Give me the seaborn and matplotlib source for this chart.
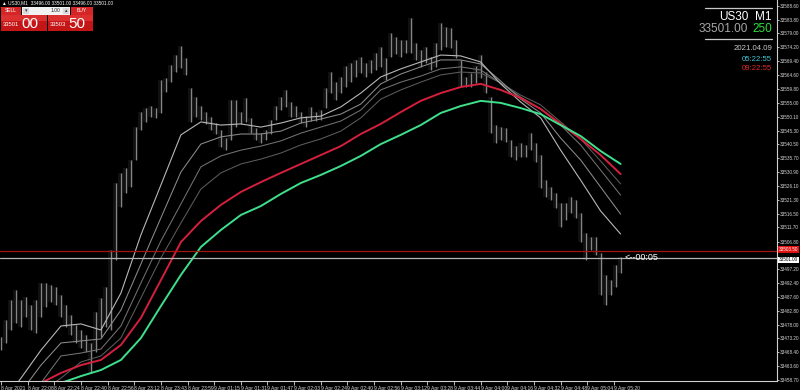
import numpy as np
import pandas as pd
import matplotlib
matplotlib.use("Agg")
import matplotlib.pyplot as plt
import matplotlib.transforms as mtransforms
from matplotlib.patches import Rectangle
from matplotlib.lines import Line2D
import seaborn as sns

# ---------------- data ----------------
symbol = "US30"
timeframe = "M1"
title_text = "\u25b2 US30,M1  33496.00 33501.00 33496.00 33501.00"
bid_price = 33501.00
ask_price = 33503.50
spread_points = "250"
date_text = "2021.04.09"
time_local = "05:22:55"
time_server = "09:22:55"
countdown = "<--00:05"

bar_step = 3  # one sample every 3 one-minute bars
highs = [33473.7, 33479.6, 33486.5, 33490.0, 33486.5, 33487.5, 33484.8, 33486.5, 33492.4, 33492.4,
         33491.7, 33491.0, 33488.2, 33484.8, 33481.3, 33477.8, 33476.1, 33474.4, 33471.6, 33482.3,
         33487.2, 33491.0, 33503.8, 33527.1, 33530.6, 33532.3, 33535.1, 33546.5, 33551.7, 33553.1,
         33553.8, 33553.1, 33562.8, 33563.5, 33568.0, 33571.5, 33574.6, 33570.5, 33560.1, 33556.9,
         33553.8, 33551.7, 33550.0, 33547.9, 33545.5, 33542.7, 33555.9, 33555.9, 33551.7, 33556.6,
         33549.7, 33546.2, 33544.4, 33545.5, 33549.0, 33553.8, 33556.9, 33559.4, 33555.2, 33553.8,
         33551.7, 33550.3, 33553.5, 33551.7, 33552.4, 33560.1, 33565.6, 33562.1, 33563.9, 33567.7,
         33568.7, 33569.8, 33570.8, 33568.7, 33569.8, 33572.2, 33574.3, 33570.5, 33579.1, 33577.8,
         33576.7, 33576.7, 33584.4, 33575.7, 33573.2, 33574.3, 33570.8, 33575.7, 33582.6, 33581.2,
         33580.9, 33576.7, 33569.8, 33563.9, 33565.3, 33567.7, 33571.5, 33565.6, 33556.9, 33547.2,
         33546.5, 33546.2, 33542.0, 33539.9, 33541.0, 33540.3, 33544.4, 33541.0, 33536.8, 33528.1,
         33525.7, 33523.6, 33520.2, 33520.2, 33522.2, 33521.2, 33516.7, 33509.7, 33508.4, 33508.4,
         33502.8, 33495.2, 33493.4, 33498.6, 33501.4]
lows = [33469.1, 33471.6, 33476.1, 33478.5, 33477.1, 33480.6, 33476.1, 33475.0, 33480.6, 33484.1,
        33485.8, 33484.8, 33480.6, 33477.1, 33474.4, 33471.6, 33469.8, 33468.5, 33461.2, 33468.5,
        33473.7, 33477.1, 33476.1, 33500.4, 33518.8, 33523.6, 33525.7, 33535.1, 33545.5, 33548.3,
        33550.0, 33549.7, 33551.4, 33558.7, 33562.1, 33565.6, 33567.0, 33564.6, 33548.3, 33550.0,
        33549.0, 33547.6, 33545.5, 33544.1, 33539.6, 33538.5, 33542.0, 33546.5, 33547.6, 33548.3,
        33544.4, 33542.0, 33541.0, 33542.0, 33544.1, 33549.0, 33552.4, 33553.5, 33550.0, 33550.0,
        33547.9, 33546.5, 33548.6, 33548.6, 33549.0, 33553.1, 33558.3, 33555.9, 33558.3, 33560.4,
        33562.1, 33563.9, 33565.3, 33563.9, 33565.3, 33566.3, 33567.4, 33562.8, 33570.8, 33571.9,
        33570.8, 33572.2, 33572.2, 33569.8, 33567.4, 33568.7, 33566.3, 33567.4, 33573.2, 33574.3,
        33573.9, 33570.5, 33560.4, 33560.4, 33560.4, 33561.8, 33563.5, 33558.3, 33544.4, 33541.0,
        33542.0, 33541.3, 33536.1, 33535.1, 33536.1, 33536.1, 33538.5, 33534.4, 33525.4, 33522.2,
        33521.2, 33518.4, 33511.8, 33514.3, 33516.7, 33515.0, 33506.6, 33500.4, 33503.8, 33502.1,
        33488.2, 33484.8, 33488.2, 33491.0, 33495.9]

ma_step = 12  # moving averages sampled every 12 bars
ma_gray1 = [33450.1, 33459.4, 33469.1, 33477.5, 33478.2, 33476.1, 33488.9, 33509.1, 33526.4, 33543.8,
            33548.3, 33547.2, 33547.6, 33546.5, 33547.9, 33549.7, 33550.3, 33553.5, 33558.3, 33563.9,
            33566.7, 33569.1, 33571.5, 33571.2, 33569.1, 33561.5, 33555.2, 33549.7, 33538.5, 33528.1,
            33517.4, 33509.4]
ma_gray2 = [33448.3, 33454.6, 33463.9, 33471.6, 33472.3, 33473.0, 33483.0, 33499.0, 33515.0, 33530.9,
            33540.6, 33543.1, 33544.1, 33544.1, 33545.1, 33547.9, 33549.3, 33551.0, 33554.5, 33561.5,
            33564.9, 33567.4, 33569.8, 33569.8, 33568.4, 33562.5, 33556.2, 33551.4, 33542.7, 33535.1,
            33525.7, 33516.3]
ma_gray3 = [33444.9, 33450.1, 33457.7, 33467.1, 33468.1, 33469.5, 33477.5, 33492.4, 33507.0, 33519.8,
            33532.7, 33536.5, 33538.5, 33539.9, 33541.7, 33544.4, 33546.5, 33548.6, 33552.4, 33559.4,
            33562.1, 33564.2, 33566.7, 33567.4, 33566.3, 33561.8, 33556.9, 33552.8, 33547.2, 33540.3,
            33531.6, 33522.9]
ma_gray4 = [33443.1, 33448.3, 33454.6, 33459.4, 33465.0, 33467.1, 33473.3, 33487.2, 33501.1, 33513.2,
            33525.0, 33530.6, 33533.7, 33535.4, 33537.5, 33540.3, 33542.4, 33545.1, 33549.7, 33556.2,
            33559.4, 33562.1, 33564.6, 33565.6, 33565.3, 33561.8, 33557.6, 33554.2, 33548.3, 33542.4,
            33534.7, 33526.8]
ma_red = [33451.8, 33454.6, 33457.7, 33461.2, 33463.9, 33465.7, 33470.9, 33480.3, 33493.4, 33506.6,
          33513.9, 33519.5, 33524.0, 33527.4, 33530.6, 33533.7, 33536.8, 33539.9, 33544.1, 33547.6,
          33551.7, 33555.6, 33558.3, 33560.4, 33561.5, 33559.4, 33556.6, 33552.8, 33547.6, 33542.4,
          33536.8, 33530.2]
ma_green = [33451.8, 33453.5, 33455.6, 33457.7, 33460.1, 33462.2, 33465.7, 33473.3, 33484.4, 33495.2,
            33504.9, 33510.8, 33516.0, 33519.1, 33523.3, 33527.1, 33529.9, 33533.0, 33536.5, 33540.6,
            33543.8, 33547.2, 33551.4, 33553.8, 33555.6, 33554.9, 33553.1, 33551.0, 33547.2, 33543.4,
            33538.2, 33533.7]

ytick_values = [33588.60, 33583.80, 33579.00, 33574.20, 33569.40, 33564.60, 33559.80, 33555.00,
                33550.10, 33545.30, 33540.50, 33535.70, 33530.90, 33526.10, 33521.30, 33516.50,
                33511.70, 33506.80, 33497.20, 33492.40, 33487.60, 33482.80, 33478.00,
                33473.20, 33468.40, 33463.60, 33458.70]
xtick_labels = ["8 Apr 2021", "8 Apr 22:08", "8 Apr 22:24", "8 Apr 22:40", "8 Apr 22:56",
                "8 Apr 23:12", "8 Apr 23:43", "8 Apr 23:59", "9 Apr 01:15", "9 Apr 01:31",
                "9 Apr 01:47", "9 Apr 02:03", "9 Apr 02:24", "9 Apr 02:40", "9 Apr 02:56",
                "9 Apr 03:12", "9 Apr 03:28", "9 Apr 03:44", "9 Apr 04:00", "9 Apr 04:16",
                "9 Apr 04:32", "9 Apr 04:48", "9 Apr 05:04", "9 Apr 05:20"]
xtick_every = 16

# ---------------- style ----------------
sns.set_theme(style="dark")
plt.rcParams.update({
    "figure.facecolor": "black",
    "axes.facecolor": "black",
    "savefig.facecolor": "black",
    "text.color": "white",
})
plt.rcParams["font.family"] = ["Liberation Sans", "DejaVu Sans"]

W, H = 800, 390
fig = plt.figure(figsize=(W / 100, H / 100), dpi=100)
ax = fig.add_axes([0, 9 / H, 777 / W, 381 / H])
ax.set_facecolor("black")
ax.grid(False)

# price bars
bar_idx = np.arange(len(highs)) * bar_step
ax.fill_between(bar_idx, lows, highs, step="mid", color="#7c7c7c", alpha=0.13, lw=0)
ax.vlines(bar_idx, lows, highs, color="#858585", lw=0.9)

# moving averages
ma_idx = np.arange(len(ma_gray1)) * ma_step
ma_series = [
    (ma_gray4, "#5c5c5c", 0.75),
    (ma_gray3, "#727272", 0.75),
    (ma_gray2, "#8c8c8c", 0.75),
    (ma_gray1, "#b8b8b8", 0.8),
    (ma_red, "#d4203c", 1.4),
    (ma_green, "#3fe08c", 1.4),
]
for vals, col, lw in ma_series:
    d = pd.DataFrame({"bar": ma_idx, "price": vals})
    sns.lineplot(data=d, x="bar", y="price", ax=ax, color=col, lw=lw, legend=False)

# bid / ask lines
ax.axhline(ask_price, color="#a01414", lw=0.9)
ax.axhline(bid_price, color="#b4b4b4", lw=0.9)
ax.text(374.6, bid_price + 0.4, countdown, color="white", fontsize=6.5, va="center", ha="left")

# axes ranges
ax.set_xlim(-0.6, 465.9)
ax.set_ylim(33458.4, 33590.6)
ax.set_xlabel("")
ax.set_ylabel("")

# right price scale
ax.yaxis.tick_right()
ax.set_yticks(ytick_values)
ax.set_yticklabels([f"{v:.2f}" for v in ytick_values])
ax.tick_params(axis="y", which="both", right=True, left=False, direction="out", length=1.5,
               width=0.6, colors="#d8d8d8", labelsize=3.3, pad=0.5)

# time scale
xt = np.arange(len(xtick_labels)) * xtick_every
ax.set_xticks(xt)
ax.set_xticklabels(xtick_labels, ha="left")
ax.tick_params(axis="x", which="both", bottom=True, direction="out", length=3, width=0.6,
               colors="#d8d8d8", labelsize=3.6, pad=0.6)

for s in ["top", "left"]:
    ax.spines[s].set_visible(False)
for s in ["right", "bottom"]:
    ax.spines[s].set_visible(True)
    ax.spines[s].set_color("#d0d0d0")
    ax.spines[s].set_linewidth(0.8)

# price tags on the scale
blend = mtransforms.blended_transform_factory(ax.transAxes, ax.transData)
ax.text(1.0025, ask_price + 0.4, f"{ask_price:.2f}", transform=blend, fontsize=3.3, color="white",
        va="center", ha="left", bbox=dict(boxstyle="square,pad=0.2", fc="#e01010", ec="none"),
        clip_on=False)
ax.text(1.0025, bid_price - 0.6, f"{bid_price:.2f}", transform=blend, fontsize=3.3, color="black",
        va="center", ha="left", bbox=dict(boxstyle="square,pad=0.2", fc="white", ec="none"),
        clip_on=False)


# ---------------- overlays in figure pixels ----------------
def fx(x):
    return x / W


def fy(y):
    return 1 - y / H


def rect(x0, y0, x1, y1, fc, ec="none", lw=0):
    fig.add_artist(Rectangle((fx(x0), fy(y1)), (x1 - x0) / W, (y1 - y0) / H,
                             transform=fig.transFigure, fc=fc, ec=ec, lw=lw))


def hline(x0, x1, y, color, lw=0.8):
    fig.add_artist(Line2D([fx(x0), fx(x1)], [fy(y), fy(y)], transform=fig.transFigure,
                          color=color, lw=lw))


# title
fig.text(fx(2), fy(3), title_text, fontsize=3.4, color="white", va="center", ha="left")

# one-click trading panel
rect(1, 7, 21, 15, "#d42626")
fig.text(fx(11), fy(11), "SELL", fontsize=3.6, color="white", ha="center", va="center")
rect(22, 7, 70, 15, "#f2f2f2")
rect(23, 8, 29, 14, "#d8d8d8")
rect(63, 8, 69, 14, "#d8d8d8")
fig.text(fx(26), fy(11), "\u25be", fontsize=3.5, color="#333333", ha="center", va="center")
fig.text(fx(66), fy(11), "\u25b4", fontsize=3.5, color="#333333", ha="center", va="center")
fig.text(fx(56), fy(11), "1.00", fontsize=3.6, color="#222222", ha="center", va="center")
rect(71, 7, 93, 15, "#d42626")
fig.text(fx(82), fy(11), "BUY", fontsize=3.6, color="white", ha="center", va="center")
rect(1, 15, 47, 31, "#c41616")
rect(1, 15, 47, 21, "#dc3030")
rect(48, 15, 93, 31, "#c41616")
rect(48, 15, 93, 21, "#dc3030")
bid_str = f"{bid_price:.2f}"
ask_str = f"{ask_price:.2f}"
fig.text(fx(3), fy(25), bid_str[:5], fontsize=4.2, color="white", ha="left", va="center")
fig.text(fx(21), fy(23.5), bid_str[6:], fontsize=11, color="white", ha="left", va="center")
fig.text(fx(50), fy(25), ask_str[:5], fontsize=4.2, color="white", ha="left", va="center")
fig.text(fx(68), fy(23.5), ask_str[6:], fontsize=11, color="white", ha="left", va="center")

# info panel (top right)
hline(705, 772, 8.3, "#c8c8c8", 0.9)
fig.text(fx(748), fy(16.5), symbol, fontsize=8.5, color="white", ha="right", va="center")
fig.text(fx(772), fy(16.5), timeframe, fontsize=8.5, color="white", ha="right", va="center")
fig.text(fx(748), fy(29.5), f"{bid_price:.2f}", fontsize=8.5, color="#a8a8a8", ha="right", va="center")
fig.text(fx(772), fy(29.5), spread_points, fontsize=8.5, color="#2ee03c", ha="right", va="center")
hline(705, 772, 38.5, "#c8c8c8", 0.9)
fig.text(fx(772), fy(49), date_text, fontsize=5.6, color="#c8c8c8", ha="right", va="center")
fig.text(fx(772), fy(59.5), time_local, fontsize=5.6, color="#3cc4d4", ha="right", va="center")
fig.text(fx(772), fy(69), time_server, fontsize=5.6, color="#e02a2a", ha="right", va="center")

fig.savefig("out.png", dpi=100, facecolor="black")
